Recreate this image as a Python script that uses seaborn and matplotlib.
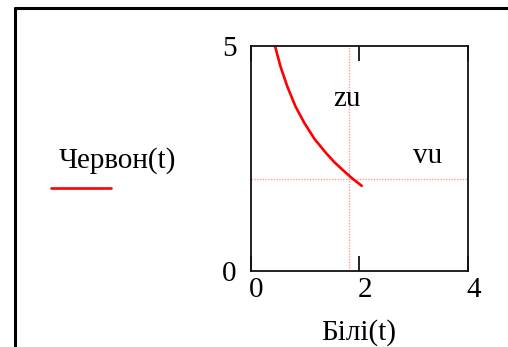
import matplotlib
matplotlib.use("Agg")
import matplotlib.pyplot as plt
import matplotlib.transforms as mtransforms
from matplotlib.lines import Line2D
import seaborn as sns

# data
t_white = [0.45, 0.55, 0.68, 0.83, 0.99, 1.18, 1.39, 1.55, 1.72, 1.88, 2.05]
red_vals = [5.0, 4.55, 4.09, 3.65, 3.29, 2.93, 2.62, 2.41, 2.22, 2.05, 1.89]
zu_value = 1.82
vu_value = 2.04
x_ticks = [0, 2, 4]
y_ticks = [0, 5]
x_label = "Білі(t)"
y_label = "Червон(t)"

sns.set_style("white")
plt.rcParams['font.family'] = ['Liberation Serif', 'DejaVu Serif']
plt.rcParams['text.color'] = 'black'
plt.rcParams['xtick.color'] = 'black'
plt.rcParams['ytick.color'] = 'black'

FS = 21
W, H = 508, 347
fig = plt.figure(figsize=(W / 100, H / 100), dpi=100)
ax = fig.add_axes([250.5 / W, 1 - 271 / H, 217 / W, 225.3 / H])

sns.lineplot(x=t_white, y=red_vals, sort=False, color='red', lw=1.9, ax=ax)

ax.axvline(zu_value, color='#ff9a9a', lw=1.0, ls=(0, (1, 1)), zorder=1)
ax.axhline(vu_value, color='#ff9a9a', lw=1.0, ls=(0, (1, 1)), zorder=1)
ax.text(1.77, 3.82, "zu", fontsize=FS, ha='center', va='center', color='black')
ax.text(3.27, 2.55, "vu", fontsize=FS, ha='center', va='center', color='black')

ax.set_xlim(0, 4)
ax.set_ylim(0, 5)
ax.set_xticks(x_ticks)
ax.set_yticks(y_ticks)
ax.set_xticklabels([str(v) for v in x_ticks])
ax.set_yticklabels([str(v) for v in y_ticks])
ax.tick_params(axis='x', direction='in', length=11, width=1.2, top=True, bottom=True,
               labelsize=FS, pad=4, color='black', labelcolor='black')
ax.tick_params(axis='y', length=0, labelsize=FS, pad=10, labelcolor='black')
offset = mtransforms.ScaledTranslation(6 / 100, 0, fig.dpi_scale_trans)
for lab in ax.get_xticklabels():
    lab.set_transform(lab.get_transform() + offset)
for s in ax.spines.values():
    s.set_visible(True)
    s.set_color('#111111')
    s.set_linewidth(1.3)
ax.set_xlabel("")
ax.set_ylabel("")

fig.text(359 / W, 1 - 333 / H, x_label, fontsize=FS, ha='center', va='center', color='black')
fig.text(117 / W, 1 - 161 / H, y_label, fontsize=FS, ha='center', va='center', color='black')
fig.add_artist(Line2D([51 / W, 111 / W], [1 - 188 / H, 1 - 188 / H],
                      color='red', lw=1.9, transform=fig.transFigure))

# outer region frame
fig.add_artist(Line2D([14.5 / W, 14.5 / W], [0, 1 - 8 / H], color='black', lw=2.2,
                      transform=fig.transFigure))
fig.add_artist(Line2D([14.5 / W, 1], [1 - 8 / H, 1 - 8 / H], color='black', lw=2.2,
                      transform=fig.transFigure))

fig.savefig("out.png", dpi=100)
